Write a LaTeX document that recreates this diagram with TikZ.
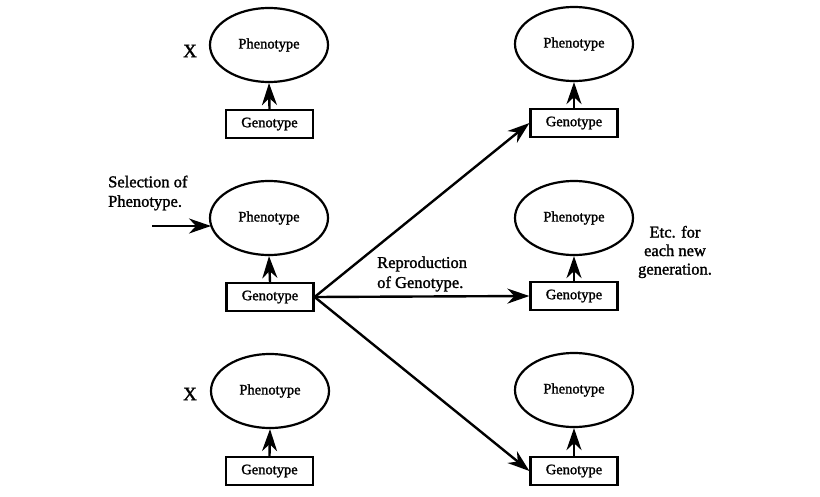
\documentclass[tikz,border=0pt]{standalone}
\usepackage{fontspec}
\setmainfont[FakeBold=1.5]{Liberation Serif}
\usetikzlibrary{arrows.meta,shapes.geometric}
\begin{document}
\begin{tikzpicture}[x=1pt,y=-1pt,
  pheno/.style={draw,ellipse,line width=2.2pt,minimum width=118pt,minimum height=74pt,inner sep=0pt,font=\fontsize{14.5}{16}\selectfont},
  geno/.style={draw,rectangle,line width=2.2pt,minimum width=87pt,minimum height=28pt,inner sep=0pt,font=\fontsize{14.5}{16}\selectfont},
  arr/.style={line width=2.4pt,-{Stealth[length=22pt,width=15pt,inset=7pt]}},
  lbl/.style={font=\fontsize{16.5}{19.5}\selectfont,inner sep=0pt},
  xlbl/.style={font=\fontsize{19}{20}\selectfont,inner sep=0pt}]
\useasboundingbox[fill=white] (0,0) rectangle (820,496);
% left column
\node[pheno] (p1) at (269,45) {Phenotype};
\node[geno]  (g1) at (269.5,124) {Genotype};
\node[pheno] (p2) at (269,218) {Phenotype};
\node[geno]  (g2) at (270,297) {Genotype};
\node[pheno] (p3) at (270,391) {Phenotype};
\node[geno]  (g3) at (269.5,471) {Genotype};
% right column
\node[pheno] (p4) at (574,44) {Phenotype};
\node[geno]  (g4) at (574,123) {Genotype};
\node[pheno] (p5) at (574,218) {Phenotype};
\node[geno]  (g5) at (574,296) {Genotype};
\node[pheno] (p6) at (574,390) {Phenotype};
\node[geno]  (g6) at (574,471) {Genotype};
% genotype -> phenotype
\foreach \g/\p in {g1/p1,g2/p2,g3/p3,g4/p4,g5/p5,g6/p6}
  \draw[arr] (\g.north) -- (\p.south);
% reproduction
\draw[arr] (g2.east) -- (g4.west);
\draw[arr] (g2.east) -- (g5.west);
\draw[arr] (g2.east) -- (g6.west);
% selection
\coordinate (s0) at (152,226);
\coordinate (s1) at (211,226);
\draw[arr] (s0) -- (s1);
% labels
\node[xlbl] (x1) at (190,51) {X};
\node[xlbl] (x2) at (190,394) {X};
\node[lbl,align=left,anchor=west] (sel) at (108,193) {Selection of\\Phenotype.};
\node[lbl,align=left,anchor=west,font=\fontsize{16.5}{20}\selectfont] (rep) at (377,274) {Reproduction\\of Genotype.};
\node[lbl,align=center,font=\fontsize{16.5}{18.5}\selectfont] (etc) at (675,252) {Etc. for\\each new\\generation.};
\end{tikzpicture}
\end{document}
